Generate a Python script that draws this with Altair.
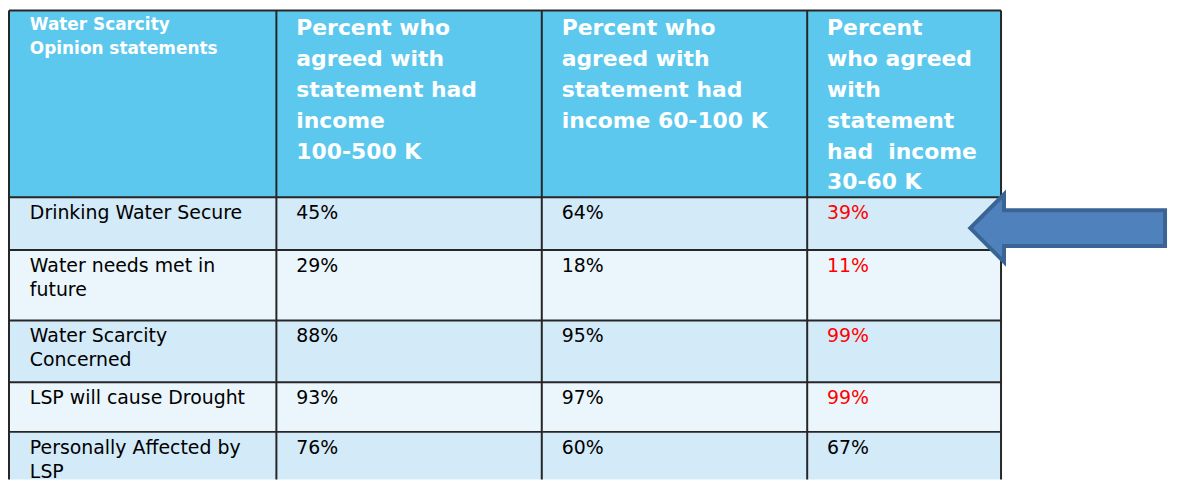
import altair as alt
import pandas as pd

# ---------------- data ----------------
header_labels = [
    "Water Scarcity\nOpinion statements",
    "Percent who\nagreed with\nstatement had\nincome\n100-500 K",
    "Percent who\nagreed with\nstatement had\nincome 60-100 K",
    "Percent\nwho agreed\nwith\nstatement\nhad\u00a0\u00a0income\n30-60 K",
]
statements = [
    "Drinking Water Secure",
    "Water needs met in\nfuture",
    "Water Scarcity\nConcerned",
    "LSP will cause Drought",
    "Personally Affected by\nLSP",
]
income_100_500 = [45, 29, 88, 93, 76]
income_60_100 = [64, 18, 95, 97, 60]
income_30_60 = [39, 11, 99, 99, 67]
highlight_30_60 = [True, True, True, True, False]

# ---------------- layout (page pixels) ----------------
W, H = 1165, 470
X0, Y0 = 8, 8
col_edges = [7, 276, 543, 810, 1005]
row_edges = [6, 194, 247, 318, 380, 430, Y0 + H]
pad_x = 20

HEADER_FILL = "#5CC8EE"
DARK_FILL = "#D3EAF8"
LIGHT_FILL = "#EAF5FC"
BORDER = "#262626"

xs = alt.Scale(domain=[X0, X0 + W], nice=False, zero=False)
ys = alt.Scale(domain=[Y0, Y0 + H], nice=False, zero=False, reverse=True)
X = lambda f: alt.X(f, scale=xs, axis=None)
Y = lambda f: alt.Y(f, scale=ys, axis=None)

# cell backgrounds
cells = []
for r in range(len(row_edges) - 1):
    fill = HEADER_FILL if r == 0 else (DARK_FILL if r % 2 == 1 else LIGHT_FILL)
    cells.append(dict(x=col_edges[0], x2=col_edges[-1],
                      y=row_edges[r], y2=row_edges[r + 1], fill=fill))
cells_df = pd.DataFrame(cells)

rects = alt.Chart(cells_df).mark_rect().encode(
    x=X("x:Q"), x2="x2:Q", y=Y("y:Q"), y2="y2:Q",
    fill=alt.Fill("fill:N", scale=None),
)

# grid lines (no bottom line: the table runs off the bottom edge)
lines = []
for ry in row_edges[:-1]:
    lines.append(dict(x=col_edges[0], x2=col_edges[-1], y=ry, y2=ry))
for cx in col_edges:
    lines.append(dict(x=cx, x2=cx, y=row_edges[0], y2=row_edges[-1]))
lines_df = pd.DataFrame(lines)

grid = alt.Chart(lines_df).mark_rule(color=BORDER, strokeWidth=2).encode(
    x=X("x:Q"), x2="x2:Q", y=Y("y:Q"), y2="y2:Q",
)

# header texts
hdr = []
for c, lab in enumerate(header_labels):
    hdr.append(dict(x=col_edges[c] + pad_x + (1 if c == 0 else 0),
                    y=26 if c == 0 else 31, text=lab, col=c))
hdr_df = pd.DataFrame(hdr)

hdr1 = alt.Chart(hdr_df[hdr_df.col == 0]).mark_text(
    align="left", baseline="alphabetic", font="DejaVu Sans", fontWeight="bold",
    fontSize=17, lineHeight=24, lineBreak="\n", color="white",
).encode(x=X("x:Q"), y=Y("y:Q"), text="text:N")

hdr2 = alt.Chart(hdr_df[hdr_df.col > 0]).mark_text(
    align="left", baseline="alphabetic", font="DejaVu Sans", fontWeight="bold",
    fontSize=22, lineHeight=31, lineBreak="\n", color="white",
).encode(x=X("x:Q"), y=Y("y:Q"), text="text:N")

# body texts
body = []
for i, s in enumerate(statements):
    base = row_edges[i + 1] + 22
    body.append(dict(x=col_edges[0] + pad_x + 1, y=base, text=s, color="black"))
    body.append(dict(x=col_edges[1] + pad_x, y=base, text=f"{income_100_500[i]}%", color="black"))
    body.append(dict(x=col_edges[2] + pad_x, y=base, text=f"{income_60_100[i]}%", color="black"))
    body.append(dict(x=col_edges[3] + pad_x, y=base, text=f"{income_30_60[i]}%",
                     color="#FF0000" if highlight_30_60[i] else "black"))
body_df = pd.DataFrame(body)

body_txt = alt.Chart(body_df).mark_text(
    align="left", baseline="alphabetic", font="DejaVu Sans",
    fontSize=19, lineHeight=24, lineBreak="\n",
).encode(
    x=X("x:Q"), y=Y("y:Q"), text="text:N",
    color=alt.Color("color:N", scale=None),
)

# arrow annotation pointing at the first row
tip_x, tip_y = 974, 225
head_x, head_half, shaft_half, tail_x = 1008, 34, 18, 1170
arrow_pts = [
    (tip_x, tip_y),
    (head_x, tip_y - head_half),
    (head_x, tip_y - shaft_half),
    (tail_x, tip_y - shaft_half),
    (tail_x, tip_y + shaft_half),
    (head_x, tip_y + shaft_half),
    (head_x, tip_y + head_half),
]
arrow_df = pd.DataFrame([dict(x=p[0], y=p[1], o=i) for i, p in enumerate(arrow_pts)])
arrow = alt.Chart(arrow_df).mark_line(
    interpolate="linear-closed", fill="#4F81BD", stroke="#3B6496",
    strokeWidth=4, strokeJoin="miter",
).encode(x=X("x:Q"), y=Y("y:Q"), order="o:Q")

chart = alt.layer(rects, grid, hdr1, hdr2, body_txt, arrow).properties(
    width=W, height=H, padding=0, background="white",
).configure_view(stroke=None)

chart.save("out.html", embed_options={"renderer": "svg", "actions": False})
